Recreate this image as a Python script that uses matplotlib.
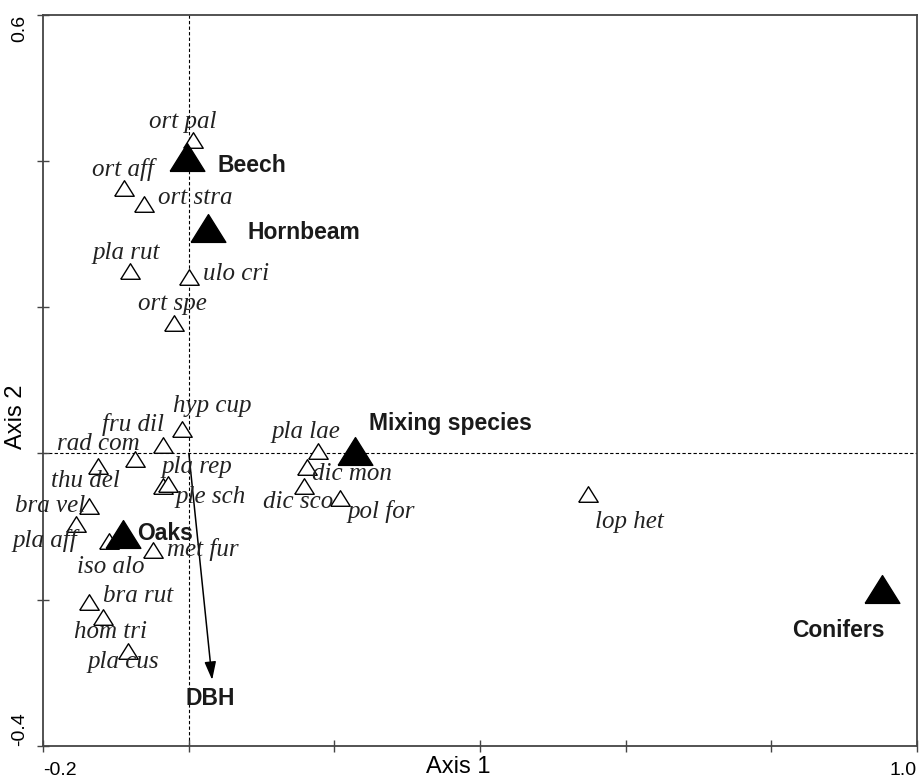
import numpy as np
import matplotlib
matplotlib.use("Agg")
import matplotlib.pyplot as plt
from matplotlib.path import Path

# species scores (axis 1, axis 2)
species = ["ort pal", "ort aff", "ort stra", "pla rut", "ulo cri", "ort spe",
           "hyp cup", "fru dil", "rad com", "thu del", "pla rep", "ple sch",
           "bra vel", "pla aff", "iso alo", "met fur", "bra rut", "hom tri",
           "pla cus", "pla lae", "dic mon", "dic sco", "pol for", "lop het"]
sp_x = [0.005, -0.089, -0.062, -0.081, 0.000, -0.020,
        -0.009, -0.036, -0.074, -0.125, -0.036, -0.029,
        -0.137, -0.155, -0.110, -0.049, -0.137, -0.118,
        -0.084, 0.178, 0.162, 0.158, 0.207, 0.548]
sp_y = [0.429, 0.363, 0.341, 0.249, 0.242, 0.179,
        0.033, 0.011, -0.007, -0.017, -0.045, -0.042,
        -0.072, -0.097, -0.120, -0.132, -0.203, -0.224,
        -0.271, 0.003, -0.019, -0.044, -0.061, -0.056]
# where the species names sit (left edge, baseline)
sp_lab_x = [-0.055, -0.133, -0.042, -0.132, 0.020, -0.070,
            -0.022, -0.119, -0.181, -0.189, -0.037, -0.019,
            -0.239, -0.242, -0.154, -0.030, -0.118, -0.158,
            -0.139, 0.114, 0.169, 0.102, 0.218, 0.558]
sp_lab_y = [0.446, 0.379, 0.341, 0.266, 0.237, 0.196,
            0.057, 0.030, 0.005, -0.046, -0.027, -0.068,
            -0.080, -0.128, -0.164, -0.141, -0.204, -0.252,
            -0.294, 0.021, -0.037, -0.075, -0.089, -0.102]

# forest types
forest = ["Beech", "Hornbeam", "Mixing species", "Oaks", "Conifers"]
fo_x = [-0.002, 0.026, 0.228, -0.090, 0.952]
fo_y = [0.406, 0.309, 0.003, -0.110, -0.186]
fo_lab_x = [0.039, 0.080, 0.248, -0.071, 0.829]
fo_lab_y = [0.385, 0.293, 0.032, -0.119, -0.251]

# environmental vector
dbh = (0.032, -0.310)
dbh_lab = (-0.005, -0.344)

tri = Path([(-1, -0.8), (1, -0.8), (0, 0.8), (-1, -0.8)])
dark = "#444444"

fig = plt.figure(figsize=(9.23, 7.81), dpi=100)
ax = fig.add_axes([0.0469, 0.0452, 0.9463, 0.9356])

ax.axhline(0, color="black", lw=0.8, dashes=(3, 2), zorder=1)
ax.axvline(0, color="black", lw=0.8, dashes=(3, 2), zorder=1)

ax.plot(sp_x, sp_y, ls="none", marker=tri, ms=14, mfc="white", mec="black", mew=1.0, zorder=3)
ax.plot(fo_x, fo_y, ls="none", marker=tri, ms=25, mfc="black", mec="black", zorder=4)

for s, x, y in zip(species, sp_lab_x, sp_lab_y):
    ax.text(x, y, s, family="Liberation Serif", style="italic", fontsize=18,
            ha="left", va="baseline", color="#222222", zorder=5)
for s, x, y in zip(forest, fo_lab_x, fo_lab_y):
    ax.text(x, y, s, family="Liberation Sans", weight="bold", fontsize=16.5,
            ha="left", va="baseline", color="#1a1a1a", zorder=5)

ax.annotate("", xy=dbh, xytext=(0, 0),
            arrowprops=dict(arrowstyle="-|>,head_length=1.1,head_width=0.35",
                            mutation_scale=10, lw=1.1, color="black",
                            shrinkA=0, shrinkB=0))
ax.text(dbh_lab[0], dbh_lab[1], "DBH", family="Liberation Sans", weight="bold",
        fontsize=16.5, ha="left", va="baseline", color="#1a1a1a", zorder=5)

ax.set_xlim(-0.2, 1.0)
ax.set_ylim(-0.4, 0.6)
xt = [-0.2, 0.0, 0.2, 0.4, 0.6, 0.8, 1.0]
yt = [-0.4, -0.2, 0.0, 0.2, 0.4, 0.6]
ax.set_xticks(xt)
ax.set_yticks(yt)
ax.set_xticklabels(["-0.2", "", "", "", "", "", "1.0"], family="Liberation Sans", fontsize=14)
ax.set_yticklabels(["-0.4", "", "", "", "", "0.6"], family="Liberation Sans", fontsize=14,
                   rotation=90)
xl = ax.get_xticklabels()
xl[0].set_ha("left")
xl[-1].set_ha("right")
yl = ax.get_yticklabels()
yl[0].set_va("bottom")
yl[-1].set_va("top")
for lab in yl:
    lab.set_ha("center")
ax.tick_params(direction="inout", length=8, width=1.0, color=dark)
ax.tick_params(axis="x", pad=8)
ax.tick_params(axis="y", pad=13)

for sp in ax.spines.values():
    sp.set_color(dark)
    sp.set_linewidth(1.3)

ax.set_xlabel("Axis 1", family="Liberation Sans", fontsize=17)
ax.xaxis.set_label_coords(0.475, -0.014, transform=ax.transAxes)
ax.set_ylabel("Axis 2", family="Liberation Sans", fontsize=17)
ax.yaxis.set_label_coords(-0.019, 0.45, transform=ax.transAxes)

fig.savefig("out.png", dpi=100)
